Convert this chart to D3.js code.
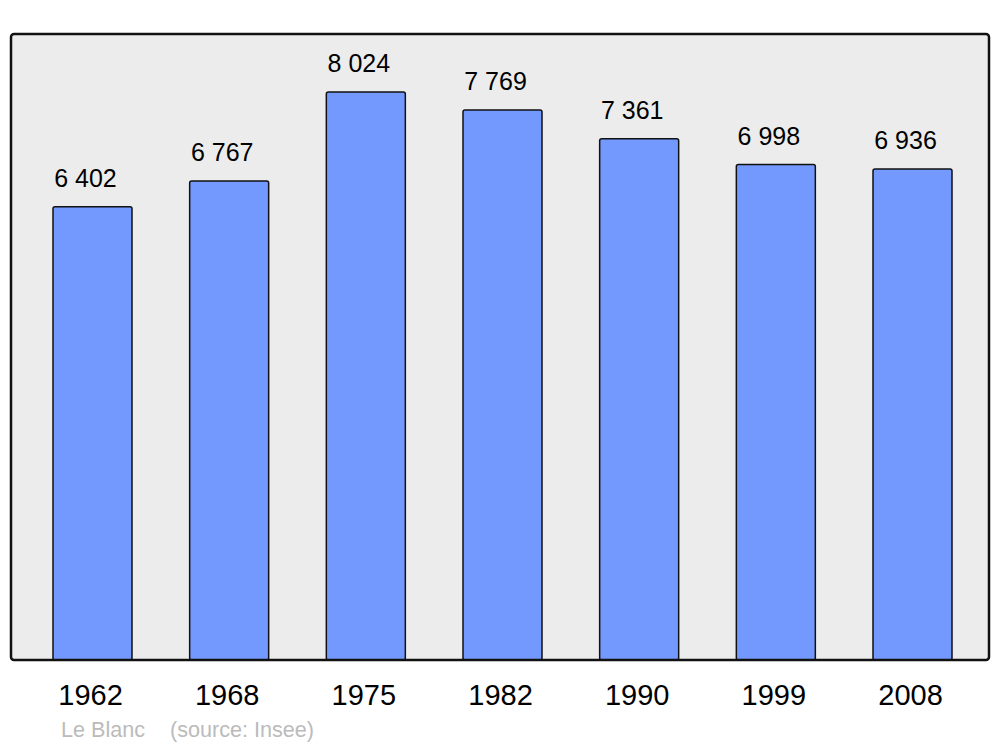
<!DOCTYPE html>
<html>
<head>
<meta charset="utf-8">
<script src="https://cdn.jsdelivr.net/npm/d3@7"></script>
<style>
  body { margin: 0; background: #fff; }
  text { font-family: "Liberation Sans", Arial, sans-serif; }
</style>
</head>
<body>
<div id="app"></div>
<script>
// population by census year
const YEARS = ['1962', '1968', '1975', '1982', '1990', '1999', '2008'];
const POPULATION = [6402, 6767, 8024, 7769, 7361, 6998, 6936];
const Y_MAX = 8842;

const width = 1000;
const height = 747;
const frame = {left: 11, right: 989, top: 34, bottom: 660};

const fmt = d3.formatLocale({decimal: ',', thousands: '\u00a0', grouping: [3], currency: ['', '']}).format(',d');

const svg = d3.select('#app')
  .append('svg')
  .attr('width', width)
  .attr('height', height);

// grey panel
svg.append('rect')
  .attr('x', frame.left)
  .attr('y', frame.top)
  .attr('width', frame.right - frame.left)
  .attr('height', frame.bottom - frame.top)
  .attr('rx', 3)
  .style('fill', '#ececec');

const x = d3.scaleBand()
  .domain(YEARS)
  .range([53, 952])
  .paddingInner(0.422)
  .paddingOuter(0);

const y = d3.scaleLinear()
  .domain([0, Y_MAX])
  .range([frame.bottom, frame.top]);

const data = YEARS.map((d, i) => ({year: d, value: POPULATION[i]}));

// bars
svg.append('g')
  .selectAll('rect')
  .data(data)
  .join('rect')
  .attr('x', d => x(d.year))
  .attr('y', d => y(d.value))
  .attr('width', x.bandwidth())
  .attr('height', d => y(0) - y(d.value))
  .attr('rx', 2)
  .style('fill', '#7399ff')
  .style('stroke', '#111')
  .style('stroke-width', 1.5);

// value labels
svg.append('g')
  .selectAll('text')
  .data(data)
  .join('text')
  .attr('x', d => x(d.year) + x.bandwidth() / 2 - 7)
  .attr('y', d => y(d.value) - 20)
  .attr('text-anchor', 'middle')
  .style('font-size', '25px')
  .style('fill', '#000')
  .text(d => fmt(d.value));

// frame border on top
svg.append('rect')
  .attr('x', frame.left)
  .attr('y', frame.top)
  .attr('width', frame.right - frame.left)
  .attr('height', frame.bottom - frame.top)
  .attr('rx', 3)
  .style('fill', 'none')
  .style('stroke', '#111')
  .style('stroke-width', 2.5);

// year axis
const xAxis = svg.append('g')
  .attr('transform', `translate(-2, ${frame.bottom})`)
  .call(d3.axisBottom(x).tickSize(0).tickPadding(0));
xAxis.select('.domain').remove();
xAxis.selectAll('text')
  .attr('dy', null)
  .attr('y', 45)
  .style('font-size', '29px')
  .style('font-family', '"Liberation Sans", Arial, sans-serif')
  .style('fill', '#000');

// caption
svg.append('text')
  .attr('x', 61)
  .attr('y', 737)
  .style('font-size', '21.6px')
  .style('fill', '#bbb')
  .text('Le Blanc');
svg.append('text')
  .attr('x', 170)
  .attr('y', 737)
  .style('font-size', '21.6px')
  .style('fill', '#bbb')
  .text('(source: Insee)');
</script>
</body>
</html>
